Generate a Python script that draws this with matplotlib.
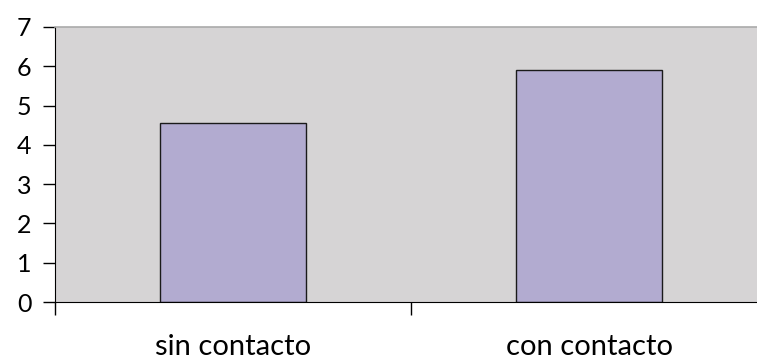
import matplotlib.pyplot as plt

categories = ["sin contacto", "con contacto"]
values = [4.56, 5.91]
y_ticks = [0, 1, 2, 3, 4, 5, 6, 7]

plt.rcParams['font.family'] = ['Lato', 'DejaVu Sans']

fig = plt.figure(figsize=(7.57, 3.6), dpi=100)
# plot area runs a little past the right edge of the figure
ax = fig.add_axes([55 / 757, 58 / 360, 712 / 757, 275 / 360])
ax.set_facecolor('#d6d4d5')

x = list(range(len(categories)))
ax.bar(x, values, width=0.41, color='#b2abd0', edgecolor='#1a1a1a', linewidth=1.0, zorder=2)

ax.set_xlim(-0.5, len(categories) - 0.5)
ax.set_ylim(0, 7)
ax.set_yticks(y_ticks)
ax.set_yticklabels([str(t) for t in y_ticks], fontsize=18)

# category boundaries carry the ticks, names sit between them
ax.set_xticks([-0.5, 0.5, 1.5])
ax.set_xticklabels([])
ax.set_xticks(x, minor=True)
ax.set_xticklabels(categories, minor=True, fontsize=21)
ax.tick_params(axis='x', which='minor', length=0, pad=23)
ax.tick_params(axis='x', which='major', length=9, width=1, color='black')
ax.tick_params(axis='y', length=9, width=1, pad=8, color='black')

ax.spines['right'].set_visible(False)
ax.spines['top'].set_color('#aaaaaa')
ax.spines['top'].set_linewidth(1.2)
ax.spines['left'].set_color('black')
ax.spines['bottom'].set_color('black')

fig.savefig('out.png', dpi=100)
